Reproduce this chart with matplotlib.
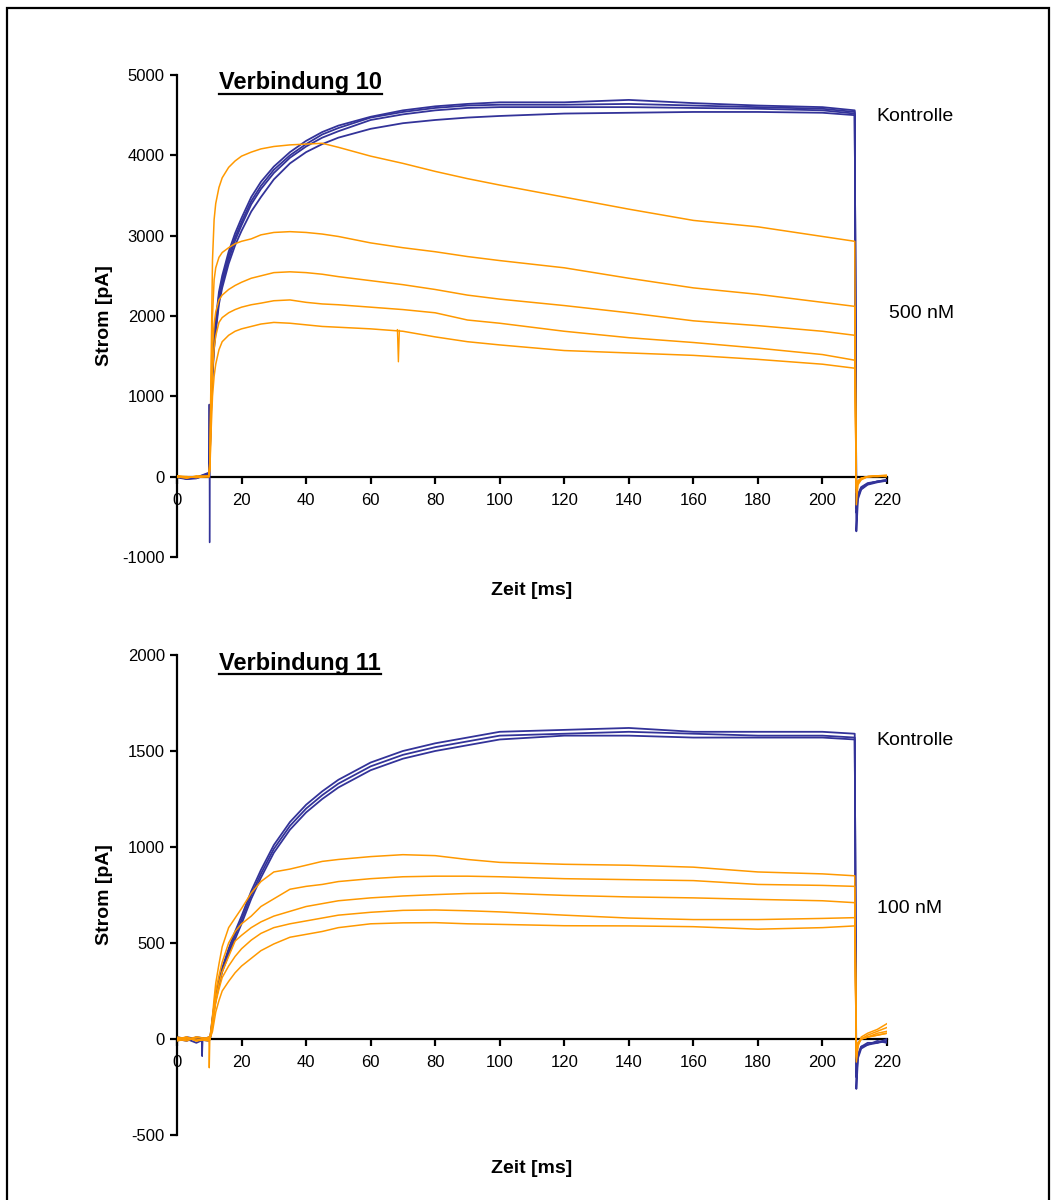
import matplotlib
matplotlib.use("Agg")
import matplotlib.pyplot as plt
from matplotlib.lines import Line2D
from matplotlib.patches import Rectangle

plt.rcParams['font.family'] = ['Liberation Sans', 'DejaVu Sans']
plt.rcParams['axes.unicode_minus'] = False

# ---------------- data ----------------
# shared time grid (ms)
t = [0, 3, 6, 9.9, 10.2, 10.6, 11, 11.5, 12, 13, 14, 16, 18, 20, 23, 26, 30, 35, 40,
     45, 50, 60, 70, 80, 90, 100, 120, 140, 160, 180, 200, 210, 210.5, 211, 212, 214, 217, 220]

# Panel 1 (Verbindung 10) - control traces (pA)
p1_ctrl_1 = [0, -20, -10, 40, 400, 1000, 1400, 1750, 1950, 2300, 2500, 2800, 3030, 3220, 3480, 3670, 3860, 4040, 4180,
             4290, 4370, 4480, 4560, 4610, 4640, 4660, 4660, 4690, 4650, 4620, 4600, 4560, -680, -280, -160, -100, -70, -50]
p1_ctrl_2 = [10, -30, -20, 30, 350, 950, 1350, 1700, 1900, 2250, 2450, 2750, 2980, 3170, 3430, 3620, 3820, 4000, 4140,
             4260, 4340, 4470, 4540, 4590, 4620, 4630, 4630, 4640, 4620, 4600, 4580, 4540, -450, -250, -150, -90, -60, -40]
p1_ctrl_3 = [-10, -30, -10, 50, 300, 900, 1300, 1650, 1850, 2200, 2400, 2700, 2940, 3130, 3390, 3580, 3780, 3970, 4110,
             4220, 4300, 4440, 4510, 4560, 4590, 4600, 4600, 4600, 4590, 4580, 4560, 4520, -400, -230, -140, -90, -60, -50]
p1_ctrl_4 = [0, -20, -20, 40, 300, 850, 1250, 1600, 1800, 2150, 2350, 2650, 2880, 3060, 3300, 3480, 3700, 3900, 4040,
             4140, 4220, 4330, 4400, 4440, 4470, 4490, 4520, 4530, 4540, 4540, 4530, 4500, -350, -220, -130, -80, -60, -40]

# Panel 1 - 500 nM traces (pA)
p1_drug_1 = [10, -10, 0, 10, 200, 1500, 2700, 3200, 3400, 3600, 3720, 3850, 3930, 3990, 4040, 4080, 4110, 4130, 4140,
             4150, 4100, 3990, 3900, 3800, 3710, 3630, 3480, 3330, 3190, 3110, 2990, 2930, -350, -100, -40, 0, 10, 10]
p1_drug_2 = [0, -20, 10, 0, 200, 1200, 2000, 2450, 2600, 2730, 2790, 2850, 2900, 2930, 2960, 3010, 3040, 3050, 3040,
             3020, 2990, 2910, 2850, 2800, 2740, 2690, 2600, 2470, 2350, 2270, 2170, 2120, -200, -80, -30, 0, 10, 20]
p1_drug_3 = [-10, 0, -10, 10, 150, 1000, 1600, 1900, 2050, 2200, 2260, 2330, 2380, 2420, 2470, 2500, 2540, 2550, 2540,
             2520, 2490, 2440, 2390, 2330, 2260, 2210, 2130, 2040, 1940, 1880, 1810, 1760, -150, -70, -20, 0, 10, 10]
p1_drug_4 = [0, -10, 0, 0, 120, 800, 1300, 1600, 1750, 1920, 1980, 2040, 2080, 2110, 2140, 2160, 2190, 2200, 2170,
             2150, 2140, 2110, 2080, 2040, 1950, 1910, 1810, 1730, 1670, 1600, 1520, 1450, -120, -60, -20, 0, 10, 0]
p1_drug_5 = [10, 0, -10, 0, 100, 600, 1000, 1250, 1400, 1580, 1680, 1760, 1810, 1840, 1870, 1900, 1920, 1910, 1890,
             1870, 1860, 1840, 1810, 1740, 1680, 1640, 1570, 1540, 1510, 1460, 1400, 1350, -100, -50, -20, 0, 0, 10]

# Panel 1 artefacts
p1_ctrl_spike_t = [9.9, 10.0, 10.1, 10.2]
p1_ctrl_spike_v = [40, 900, -820, 300]
p1_drug_spike_t = [68.3, 68.6, 68.9]
p1_drug_spike_v = [1830, 1430, 1820]

# Panel 2 (Verbindung 11) - control traces (pA)
p2_ctrl_1 = [0, -10, 10, 0, 0, 50, 110, 170, 220, 300, 370, 470, 560, 640, 770, 880, 1010, 1130, 1220,
             1290, 1350, 1440, 1500, 1540, 1570, 1600, 1610, 1620, 1600, 1600, 1600, 1590, -260, -100, -50, -30, -20, -10]
p2_ctrl_2 = [10, 0, -20, 10, 0, 40, 100, 160, 210, 290, 360, 450, 540, 620, 750, 860, 990, 1110, 1200,
             1270, 1330, 1420, 1480, 1520, 1550, 1580, 1590, 1600, 1590, 1580, 1580, 1570, -200, -90, -40, -30, -10, -20]
p2_ctrl_3 = [-10, 10, 0, -10, 0, 30, 90, 150, 200, 280, 350, 440, 520, 600, 730, 840, 970, 1090, 1180,
             1250, 1310, 1400, 1460, 1500, 1530, 1560, 1580, 1580, 1570, 1570, 1570, 1560, -180, -80, -40, -20, -20, 0]

# Panel 2 - 100 nM traces (pA)
p2_drug_1 = [0, 10, -10, 10, 0, 60, 120, 210, 290, 390, 480, 580, 630, 680, 760, 820, 870, 885, 905,
             925, 935, 950, 960, 955, 935, 920, 910, 905, 895, 870, 860, 850, -120, -40, 10, 30, 50, 80]
p2_drug_2 = [0, -10, 10, 0, 0, 50, 100, 180, 250, 330, 400, 500, 560, 600, 640, 690, 730, 780, 795,
             805, 820, 835, 845, 848, 848, 845, 835, 830, 825, 805, 800, 795, -100, -30, 0, 20, 40, 60]
p2_drug_3 = [10, 0, 0, -10, 0, 40, 80, 150, 210, 290, 350, 430, 510, 540, 580, 610, 640, 665, 690,
             705, 720, 735, 745, 752, 758, 760, 748, 740, 735, 727, 720, 710, -90, -30, 0, 10, 30, 40]
p2_drug_4 = [0, 10, -10, 0, 0, 30, 60, 130, 190, 260, 320, 380, 430, 470, 515, 550, 580, 600, 615,
             630, 645, 660, 670, 672, 668, 662, 645, 630, 622, 622, 628, 632, -80, -20, 0, 10, 20, 30]
p2_drug_5 = [-10, 0, 10, 0, 0, 20, 40, 90, 140, 200, 250, 300, 345, 380, 420, 460, 495, 530, 545,
             560, 580, 600, 605, 606, 600, 597, 590, 589, 585, 572, 580, 589, -60, -20, 0, 10, 20, 30]

# Panel 2 artefacts
p2_ctrl_spike_t = [7.6, 7.8, 8.0]
p2_ctrl_spike_v = [0, -90, 0]
p2_drug_spike_t = [9.9, 10.0, 10.2]
p2_drug_spike_v = [10, -150, 20]

titles = ["Verbindung 10", "Verbindung 11"]
drug_labels = ["500 nM", "100 nM"]
ctrl_label = "Kontrolle"
x_label = "Zeit [ms]"
y_label = "Strom [pA]"
x_ticks = list(range(0, 221, 20))
p1_y_ticks = [-1000, 0, 1000, 2000, 3000, 4000, 5000]
p2_y_ticks = [-500, 0, 500, 1000, 1500, 2000]

# ---------------- style ----------------
BLUE = "#333399"
ORANGE = "#FF9900"
W, H = 1056, 1200

fig = plt.figure(figsize=(W / 100, H / 100), dpi=100)


def px_axes(x0, y_top, x1, y_bot):
    return fig.add_axes([x0 / W, 1 - y_bot / H, (x1 - x0) / W, (y_bot - y_top) / H])


ax1 = px_axes(177, 75, 887, 557)
ax2 = px_axes(177, 655, 887, 1135)

panels = [
    dict(ax=ax1, ctrl=[p1_ctrl_1, p1_ctrl_2, p1_ctrl_3, p1_ctrl_4],
         drug=[p1_drug_1, p1_drug_2, p1_drug_3, p1_drug_4, p1_drug_5],
         cs=(p1_ctrl_spike_t, p1_ctrl_spike_v), ds=(p1_drug_spike_t, p1_drug_spike_v),
         yticks=p1_y_ticks, title=titles[0], dlabel=drug_labels[0],
         title_y=0.9703, ctrl_y=0.9046, drug_pos=(1.0033, 0.4952), xl_y=-0.0685),
    dict(ax=ax2, ctrl=[p2_ctrl_1, p2_ctrl_2, p2_ctrl_3],
         drug=[p2_drug_1, p2_drug_2, p2_drug_3, p2_drug_4, p2_drug_5],
         cs=(p2_ctrl_spike_t, p2_ctrl_spike_v), ds=(p2_drug_spike_t, p2_drug_spike_v),
         yticks=p2_y_ticks, title=titles[1], dlabel=drug_labels[1],
         title_y=0.96875, ctrl_y=0.8125, drug_pos=(0.9855, 0.4631), xl_y=-0.0700),
]

title_texts = []
for p in panels:
    ax = p["ax"]
    for tr in p["ctrl"]:
        ax.plot(t, tr, color=BLUE, lw=1.3, zorder=2)
    ax.plot(*p["cs"], color=BLUE, lw=1.0, zorder=2)
    for tr in p["drug"]:
        ax.plot(t, tr, color=ORANGE, lw=1.1, zorder=3)
    ax.plot(*p["ds"], color=ORANGE, lw=1.0, zorder=3)

    ax.set_xlim(0, 220)
    ax.set_ylim(p["yticks"][0], p["yticks"][-1])
    ax.set_xticks(x_ticks)
    ax.set_yticks(p["yticks"])
    for s in ("top", "right"):
        ax.spines[s].set_visible(False)
    ax.spines["bottom"].set_position(("data", 0))
    ax.spines["bottom"].set_zorder(1)
    for s in ("left", "bottom"):
        ax.spines[s].set_linewidth(1.6)
    ax.tick_params(axis="both", direction="out", width=1.6, length=4.8, labelsize=12)
    ax.tick_params(axis="x", pad=7)
    ax.tick_params(axis="y", pad=4)
    ax.patch.set_visible(False)

    ax.text(0.5, p["xl_y"], x_label, transform=ax.transAxes, ha="center", va="center",
            fontsize=14, fontweight="bold")
    ax.text(-0.102, 0.5, y_label, transform=ax.transAxes, ha="center", va="center",
            rotation=90, fontsize=14, fontweight="bold")
    tt = ax.text(0.0596, p["title_y"], p["title"], transform=ax.transAxes, ha="left",
                 va="baseline", fontsize=17, fontweight="bold")
    title_texts.append((ax, tt, 0.0596, p["title_y"]))
    ax.text(0.9845, p["ctrl_y"], ctrl_label, transform=ax.transAxes, ha="left",
            va="baseline", fontsize=14)
    ax.text(p["drug_pos"][0], p["drug_pos"][1], p["dlabel"], transform=ax.transAxes,
            ha="left", va="baseline", fontsize=14)

# underline the titles
fig.canvas.draw()
renderer = fig.canvas.get_renderer()
inv = fig.transFigure.inverted()
for ax, tt, tx, ty in title_texts:
    bb = tt.get_window_extent(renderer)
    x0, y0 = ax.transAxes.transform((tx, ty))
    (fx0, fy), (fx1, _) = inv.transform([(bb.x0, y0 - 4.5), (bb.x1, y0 - 4.5)])
    fig.add_artist(Line2D([fx0, fx1], [fy, fy], transform=fig.transFigure,
                          color="black", lw=1.6))

# outer frame
fig.add_artist(Rectangle((7 / W, -0.02), (1049 - 7) / W, 1 - 7.5 / H + 0.02,
                         transform=fig.transFigure, fill=False, edgecolor="black", lw=1.6))

fig.savefig("out.png", dpi=100)
